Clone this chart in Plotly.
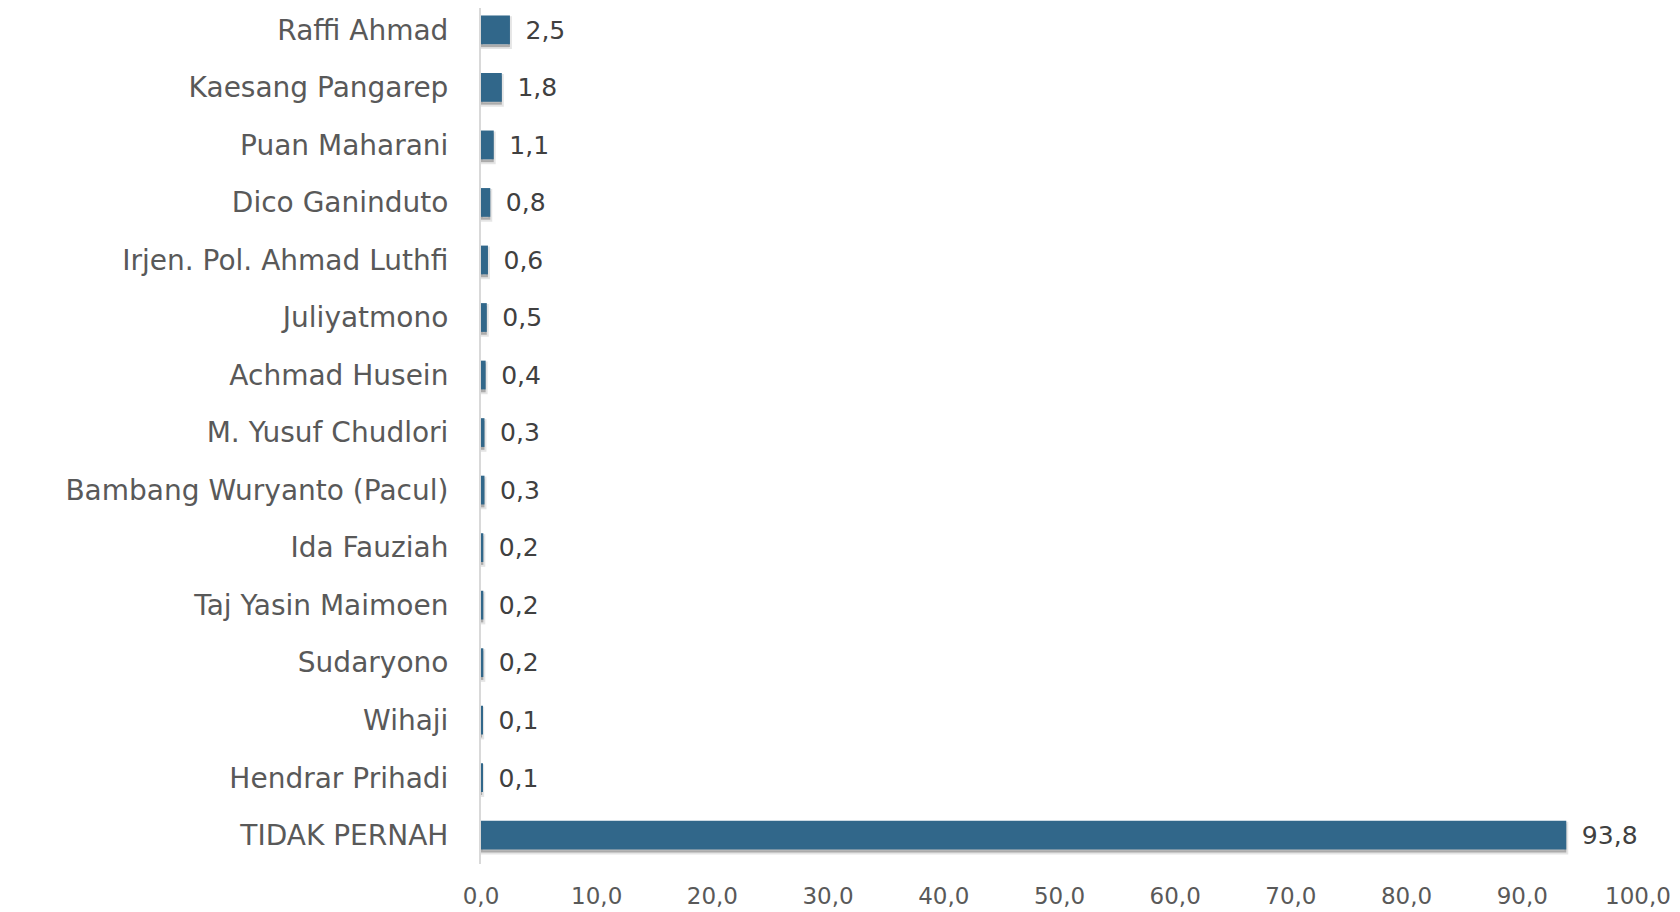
import plotly.graph_objects as go

categories = ["Raffi Ahmad", "Kaesang Pangarep", "Puan Maharani", "Dico Ganinduto",
              "Irjen. Pol. Ahmad Luthfi", "Juliyatmono", "Achmad Husein",
              "M. Yusuf Chudlori", "Bambang Wuryanto (Pacul)", "Ida Fauziah",
              "Taj Yasin Maimoen", "Sudaryono", "Wihaji", "Hendrar Prihadi",
              "TIDAK PERNAH"]
values = [2.5, 1.8, 1.1, 0.8, 0.6, 0.5, 0.4, 0.3, 0.3, 0.2, 0.2, 0.2, 0.1, 0.1, 93.8]
x_ticks = [0, 10, 20, 30, 40, 50, 60, 70, 80, 90, 100]

FONT = "DejaVu Sans"

fig = go.Figure()
# soft drop shadow
fig.add_trace(go.Bar(
    x=values, y=categories, orientation="h",
    width=0.5, offset=-0.2,
    marker=dict(color="rgba(0,0,0,0.25)", line=dict(color="rgba(0,0,0,0.10)", width=4)),
    hoverinfo="skip", showlegend=False,
))
fig.add_trace(go.Bar(
    x=values, y=categories, orientation="h",
    width=0.5, offset=-0.25,
    marker=dict(color="#31678A", line=dict(width=0)),
    texttemplate="\u2002%{x:.1f}", textposition="outside",
    textfont=dict(family=FONT, size=27, color="#404040"),
    cliponaxis=False, showlegend=False,
))

# page body has an 8px default margin; margins compensate for it
fig.update_layout(
    width=1680, height=912,
    margin=dict(l=473, r=50, t=0, b=56),
    paper_bgcolor="white", plot_bgcolor="white",
    barmode="overlay",
    separators=",.",
    font=dict(family=FONT, color="#595959"),
    xaxis=dict(range=[0, 100], tickvals=x_ticks, tickformat=".1f",
               showgrid=False, zeroline=False, showline=False,
               tickfont=dict(family=FONT, size=23, color="#595959"),
               ticks="", ticklabelstandoff=16),
    yaxis=dict(categoryorder="array", categoryarray=categories,
               range=[len(categories) - 0.5, -0.38], showgrid=False, zeroline=False,
               showline=True, linecolor="#D9D9D9", linewidth=2,
               ticks="", ticklabelstandoff=25,
               tickfont=dict(family=FONT, size=28, color="#595959")),
)

fig.write_html("out.html")
